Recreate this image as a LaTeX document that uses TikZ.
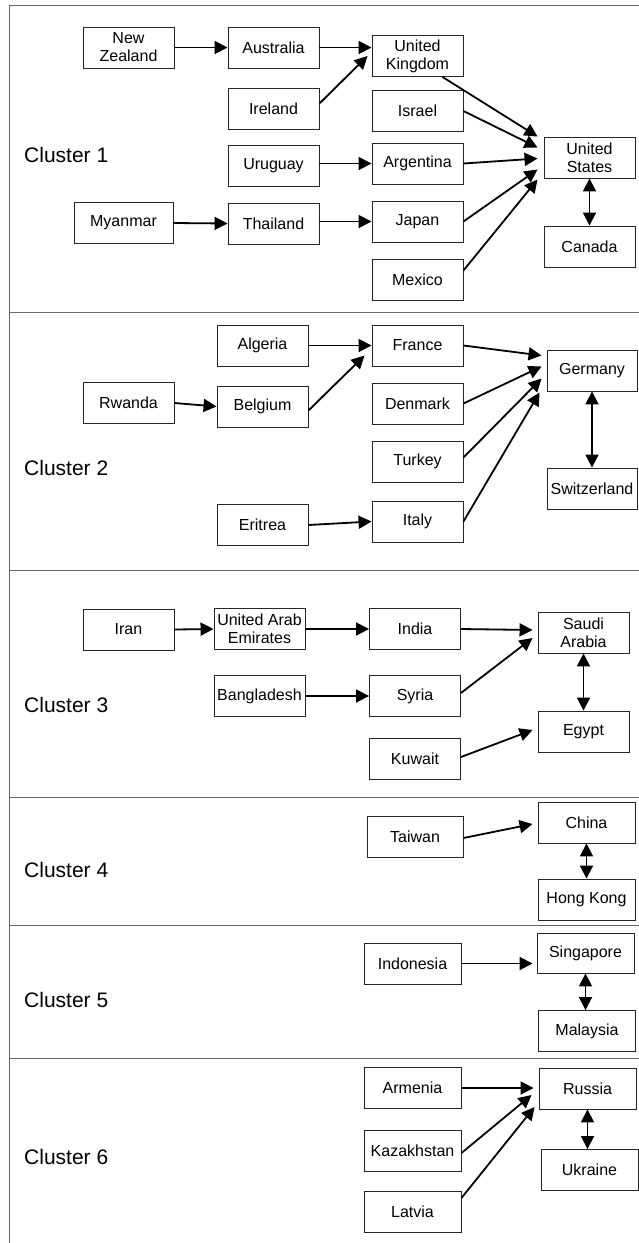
\documentclass[tikz,border=0pt]{standalone}
\usepackage{fontspec}
\setmainfont{Liberation Sans}
\usetikzlibrary{arrows.meta,calc}
\tikzset{
  box/.style={draw=black!85, line width=0.9pt, minimum width=91pt, minimum height=41pt,
    inner sep=0pt, align=center, font=\fontsize{16}{18}\selectfont},
  clabel/.style={anchor=west, inner sep=0pt, font=\fontsize{21}{25}\selectfont},
  arr/.style={line width=1.8pt, -{Triangle[length=13pt,width=13pt]}},
  darr/.style={line width=1.8pt, {Triangle[length=13pt,width=13pt]}-{Triangle[length=13pt,width=13pt]}},
  frame/.style={draw=black!60, line width=1pt}
}
\begin{document}
\begin{tikzpicture}[x=1pt,y=-1pt]
\useasboundingbox (0,0) rectangle (639,1243);
% frame
\coordinate (ftl) at (9,5);
\coordinate (fbl) at (9,1243);
\coordinate (ftr) at (639,5);
\draw[frame] (fbl) -- (ftl) -- (ftr);
\foreach \yy/\nm in {312/s1,570/s2,797/s3,925/s4,1058/s5}{
  \coordinate (\nm a) at (9,\yy);
  \coordinate (\nm b) at (639,\yy);
  \draw[frame] (\nm a) -- (\nm b);
}
% cluster labels
\node[clabel] (c1) at (24,155) {Cluster 1};
\node[clabel] (c2) at (24,468) {Cluster 2};
\node[clabel] (c3) at (24,705) {Cluster 3};
\node[clabel] (c4) at (24,870) {Cluster 4};
\node[clabel] (c5) at (24,1000) {Cluster 5};
\node[clabel] (c6) at (24,1157) {Cluster 6};

% Cluster 1
\node[box] (nz)  at (128.5,47.5) {New\\Zealand};
\node[box] (aus) at (273.5,47.5) {Australia};
\node[box] (ire) at (273.5,108.5) {Ireland};
\node[box] (uru) at (273.5,166) {Uruguay};
\node[box,minimum width=99pt] (mya) at (123.5,223) {Myanmar};
\node[box] (tha) at (273.5,223.5) {Thailand};
\node[box] (uk)  at (417.5,56) {United\\Kingdom};
\node[box] (isr) at (417.5,111) {Israel};
\node[box] (arg) at (417.5,163.5) {Argentina};
\node[box] (jap) at (417.5,221.5) {Japan};
\node[box] (mex) at (417.5,279.5) {Mexico};
\node[box] (us)  at (589.5,157.5) {United\\States};
\node[box] (can) at (589.5,246.5) {Canada};

\draw[arr] (nz.east) -- (aus.west);
\draw[arr] (aus.east) -- (aus.east -| uk.west);
\draw[arr] ($(ire.east)+(0,-5)$) -- ($(uk.west)+(-4,0)$);
\draw[arr] (arg.west -| uru.east) -- (arg.west);
\draw[arr] (mya.east) -- (tha.west);
\draw[arr] (jap.west -| tha.east) -- (jap.west);
\draw[arr] ($(uk.south)+(25,0)$) -- ($(us.north west)+(-6,0)$);
\draw[arr] (isr.east) -- ($(us.west)+(-6,-10)$);
\draw[arr] (arg.east) -- ($(us.west)+(-6,1)$);
\draw[arr] (jap.east) -- ($(us.west)+(-6,12)$);
\draw[arr] ($(mex.east)+(0,-9)$) -- ($(us.west)+(-6,22)$);
\draw[darr] (us.south) -- (can.north);

% Cluster 2
\node[box] (alg) at (262.5,345.5) {Algeria};
\node[box] (rwa) at (128.5,403) {Rwanda};
\node[box] (bel) at (262.5,406.5) {Belgium};
\node[box] (eri) at (262.5,525) {Eritrea};
\node[box] (fra) at (417.5,345.5) {France};
\node[box] (den) at (417.5,403.5) {Denmark};
\node[box] (tur) at (417.5,461.5) {Turkey};
\node[box] (ita) at (417.5,521.5) {Italy};
\node[box,minimum width=90pt] (ger) at (592,370.5) {Germany};
\node[box,minimum width=90pt] (swi) at (592,488.5) {Switzerland};

\draw[arr] (alg.east) -- (fra.west);
\draw[arr] (rwa.east) -- (bel.west);
\draw[arr] ($(bel.east)+(0,4)$) -- ($(fra.west)+(-7,10)$);
\draw[arr] (eri.east) -- (ita.west);
\draw[arr] (fra.east) -- ($(ger.west)+(-5,-15)$);
\draw[arr] (den.east) -- ($(ger.west)+(-5,-4)$);
\draw[arr] ($(tur.east)+(0,-4)$) -- ($(ger.west)+(-5,8)$);
\draw[arr] (ita.east) -- ($(ger.west)+(-7,22)$);
\draw[darr] (ger.south) -- (swi.north);

% Cluster 3
\node[box] (iran) at (128.5,629.5) {Iran};
\node[box] (uae) at (259.5,629) {United Arab\\Emirates};
\node[box] (ind) at (415,629) {India};
\node[box] (ban) at (259.5,696) {Bangladesh};
\node[box] (syr) at (415,696) {Syria};
\node[box] (kuw) at (415,759) {Kuwait};
\node[box] (sau) at (583.5,632.5) {Saudi\\Arabia};
\node[box] (egy) at (583.5,731.5) {Egypt};

\draw[arr] (iran.east) -- (uae.west);
\draw[arr] (uae.east) -- (ind.west);
\draw[arr] (ind.east) -- ($(sau.west)+(-5,-2.5)$);
\draw[arr] (ban.east) -- (syr.west);
\draw[arr] ($(syr.east)+(0,-3)$) -- ($(sau.west)+(-5,5.5)$);
\draw[arr] ($(kuw.east)+(0,-2)$) -- ($(egy.west)+(-5,-1.5)$);
\draw[darr] (sau.south) -- (egy.north);

% Cluster 4
\node[box,minimum width=96pt] (tai) at (415,836.5) {Taiwan};
\node[box,minimum width=97pt] (chi) at (586.5,822.5) {China};
\node[box,minimum width=97pt] (hk) at (586.5,899.5) {Hong Kong};
\draw[arr] ($(tai.east)+(0,1.5)$) -- ($(chi.west)+(-5,1.5)$);
\draw[darr] (chi.south) -- (hk.north);

% Cluster 5
\node[box,minimum width=97pt] (indo) at (412.5,963.5) {Indonesia};
\node[box,minimum width=97pt,minimum height=40pt] (sin) at (585.5,953) {Singapore};
\node[box,minimum width=97pt] (mal) at (587,1031) {Malaysia};
\draw[arr,shorten >=4pt] (indo.east) -- (indo.east -| sin.west);
\draw[darr] (sin.south) -- (sin.south |- mal.north);

% Cluster 6
\node[box,minimum width=97pt] (arm) at (412.5,1088) {Armenia};
\node[box,minimum width=97pt] (kaz) at (412.5,1150.5) {Kazakhstan};
\node[box,minimum width=97pt] (lat) at (412.5,1211.5) {Latvia};
\node[box,minimum width=97pt] (rus) at (587.5,1088.5) {Russia};
\node[box,minimum width=97pt] (ukr) at (589.5,1170) {Ukraine};
\draw[arr,shorten >=5pt] (arm.east) -- (arm.east -| rus.west);
\draw[arr] ($(kaz.east)+(0,2.5)$) -- ($(rus.west)+(-7,6.5)$);
\draw[arr] ($(lat.east)+(0,-13.5)$) -- ($(rus.west)+(-4,18.5)$);
\draw[darr] (rus.south) -- (rus.south |- ukr.north);
\end{tikzpicture}
\end{document}
